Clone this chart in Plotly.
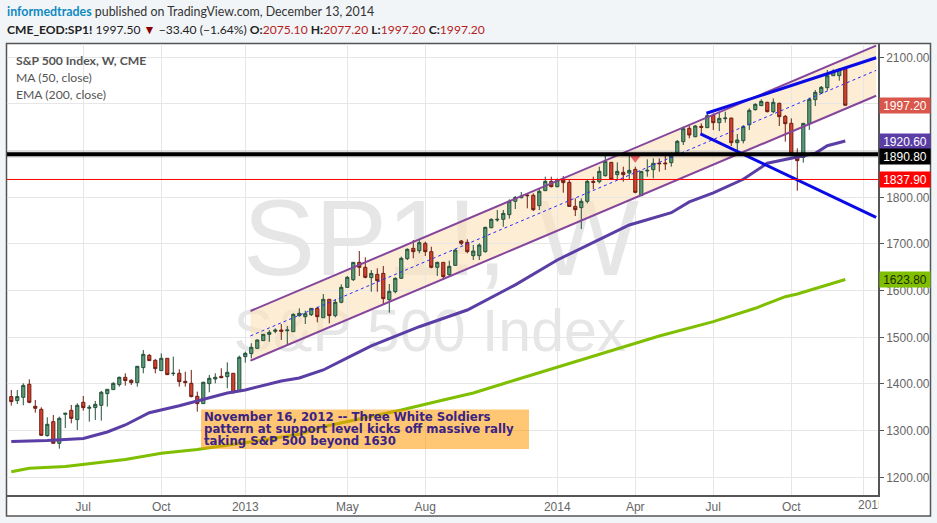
"""S&P 500 weekly candles with channel, trend lines and moving averages."""
import pandas as pd
import plotly.graph_objects as go

W, H = 937, 523
LEFT, RIGHT, TOP, BOTTOM = 7, 878, 44, 495

weeks = pd.date_range("2012-04-09", periods=140, freq="7D")

opens = [
    1372.9,1364.3,1371.4,1399.3,1352.2,1345.7,1289.3,1319.3,1272.9,1335.0,
    1343.6,1323.6,1360.7,1347.9,1349.3,1354.3,1379.3,1387.9,1398.6,1414.3,
    1407.9,1402.9,1435.0,1461.4,1450.7,1428.6,1455.0,1422.2,1422.9,1405.7,
    1401.4,1373.6,1357.9,1400.7,1410.7,1416.4,1415.7,1422.9,1385.7,1458.6,
    1465.0,1476.4,1492.8,1506.4,1512.8,1515.6,1514.2,1512.1,1546.4,1544.2,
    1548.5,1562.0,1542.0,1581.4,1546.4,1575.0,1607.0,1623.5,1660.6,1650.0,
    1627.8,1634.9,1637.0,1580.6,1597.8,1626.4,1668.5,1690.6,1685.6,1701.4,
    1683.5,1650.0,1660.6,1634.2,1654.2,1706.4,1703.5,1674.9,1674.9,1683.5,
    1734.9,1751.4,1752.8,1762.8,1791.4,1799.2,1804.9,1804.2,1782.0,1814.2,
    1834.2,1822.8,1837.0,1832.0,1780.6,1777.8,1791.4,1834.2,1833.5,1846.4,
    1874.9,1848.5,1853.5,1852.0,1859.9,1803.5,1856.4,1859.2,1873.5,1873.5,
    1874.2,1895.6,1919.2,1947.8,1929.9,1952.0,1949.2,1975.6,1959.9,1968.5,
    1969.9,1917.0,1921.4,1955.6,1987.8,1996.4,2003.5,1983.5,2001.4,1973.5,
    1958.5,1888.5,1885.6,1957.8,2009.2,2023.5,2034.9,2060.6,2060.6,2075.1,
]
highs = [
    1387.2,1387.0,1401.4,1410.0,1365.7,1350.0,1328.6,1333.6,1330.0,1337.2,
    1355.0,1358.6,1374.3,1355.0,1363.6,1385.0,1388.6,1403.6,1415.7,1422.9,
    1410.0,1437.9,1472.9,1464.3,1453.6,1465.7,1455.0,1458.6,1431.4,1426.4,
    1430.0,1383.6,1405.0,1419.3,1422.9,1433.6,1446.4,1422.9,1460.7,1469.3,
    1487.2,1495.6,1506.4,1515.6,1519.2,1528.5,1524.2,1551.4,1562.0,1557.0,
    1562.0,1565.6,1592.8,1581.4,1581.4,1613.5,1631.4,1660.6,1684.9,1671.4,
    1644.2,1647.8,1652.8,1614.2,1628.5,1672.8,1690.6,1708.5,1708.5,1705.0,
    1694.2,1662.0,1660.6,1664.2,1688.5,1708.5,1710.0,1697.8,1701.4,1737.0,
    1754.9,1772.8,1772.8,1795.6,1802.8,1811.4,1808.5,1808.5,1819.2,1844.2,
    1844.2,1840.6,1845.6,1837.0,1797.8,1797.8,1837.0,1844.2,1865.6,1890.6,
    1874.9,1874.9,1865.6,1890.6,1865.6,1855.6,1881.4,1883.5,1883.5,1895.6,
    1895.6,1922.8,1951.4,1954.9,1954.9,1958.5,1979.9,1979.9,1983.5,1983.5,
    1969.9,1935.6,1954.9,1990.6,2001.4,2009.9,2004.9,2012.0,2002.8,1976.4,
    1969.2,1904.9,1958.5,2013.5,2029.9,2038.5,2072.8,2074.2,2076.4,2077.2,
]
lows = [
    1353.6,1357.0,1354.3,1358.6,1338.6,1288.6,1287.2,1272.9,1261.4,1305.7,
    1315.7,1301.4,1342.9,1319.3,1322.9,1321.4,1351.4,1387.2,1394.3,1396.4,
    1397.9,1394.3,1422.9,1449.3,1422.9,1428.6,1419.3,1417.2,1394.3,1394.3,
    1371.4,1340.7,1357.2,1382.2,1401.4,1412.2,1390.7,1380.0,1383.6,1445.7,
    1455.0,1474.9,1492.1,1490.6,1508.5,1494.2,1483.5,1511.4,1544.2,1528.5,
    1545.6,1532.1,1542.0,1530.0,1542.8,1572.8,1606.4,1620.6,1631.4,1626.4,
    1597.8,1597.8,1569.2,1552.8,1594.2,1625.0,1665.6,1669.2,1680.0,1674.2,
    1647.8,1631.4,1624.2,1630.0,1652.8,1697.8,1680.0,1665.6,1665.6,1681.4,
    1733.5,1747.8,1737.0,1754.2,1774.9,1797.8,1776.4,1770.6,1772.8,1813.5,
    1821.4,1821.4,1809.9,1779.9,1759.9,1732.0,1787.0,1817.0,1829.9,1844.2,
    1837.0,1838.5,1833.5,1838.5,1808.5,1802.8,1844.2,1840.6,1855.0,1858.5,
    1865.6,1894.2,1912.0,1926.4,1928.5,1935.6,1948.5,1944.2,1942.0,1959.9,
    1909.9,1895.6,1915.6,1944.2,1985.6,1995.6,1982.0,1979.9,1952.8,1919.2,
    1890.6,1814.2,1874.2,1944.2,1995.6,2021.4,2028.5,2060.6,2049.9,1997.2,
]
closes = [
    1362.2,1373.0,1397.0,1360.7,1347.9,1290.0,1313.6,1272.9,1326.4,1337.2,
    1326.4,1354.3,1349.3,1350.0,1356.4,1382.2,1388.6,1401.4,1414.3,1407.2,
    1402.9,1437.9,1463.6,1450.0,1432.9,1455.0,1420.0,1422.9,1405.0,1402.9,
    1372.9,1357.9,1403.6,1412.2,1414.3,1413.6,1425.0,1381.4,1457.2,1465.7,
    1478.6,1494.2,1506.4,1510.6,1515.6,1512.8,1515.6,1549.2,1551.4,1550.6,
    1562.0,1544.2,1581.4,1546.4,1575.0,1607.0,1628.5,1660.6,1650.0,1628.5,
    1637.0,1621.4,1582.8,1598.5,1626.4,1669.2,1688.5,1683.5,1702.8,1683.5,
    1650.0,1660.6,1630.0,1652.0,1687.0,1701.4,1683.5,1684.9,1697.8,1735.6,
    1752.8,1752.8,1765.6,1791.4,1799.9,1802.8,1803.5,1773.5,1812.8,1834.2,
    1822.8,1837.0,1831.4,1780.6,1773.5,1791.4,1834.2,1832.0,1855.6,1877.0,
    1838.5,1855.6,1848.5,1857.8,1810.6,1855.6,1857.8,1872.8,1872.0,1872.0,
    1889.9,1919.9,1947.0,1933.5,1952.8,1949.9,1974.9,1959.9,1969.2,1969.9,
    1917.0,1922.8,1951.4,1986.4,1999.2,2005.6,1983.5,2003.5,1972.8,1957.8,
    1892.8,1878.5,1958.5,2009.9,2024.9,2035.6,2060.6,2070.6,2074.2,1997.2,
]

# moving averages, read at a subset of the weeks
ma_weeks = [0,6,12,16,19,23,28,31,36,39,45,48,52,56,60,68,76,84,91,103,110,113,117,122,126,130,134,136,139]
ma_values = [1276.8,1278.9,1283.2,1297.1,1312.1,1338.5,1353.5,1364.2,1380.7,1387.1,1406.4,1412.8,1430.0,
             1456.0,1481.8,1522.7,1558.5,1612.4,1665.7,1740.7,1767.0,1790.0,1809.3,1838.6,1872.9,1883.6,
             1894.3,1910.6,1920.6]
ema_weeks = [0,3,9,14,19,25,31,40,48,52,58,65,72,77,84,91,95,101,108,117,124,129,131,139]
ema_values = [1212.0,1219.3,1223.2,1230.0,1238.2,1251.5,1259.6,1276.3,1292.2,1308.5,1325.0,1344.2,1365.7,
              1380.7,1408.5,1435.7,1451.4,1475.0,1502.8,1533.5,1562.2,1587.0,1592.8,1623.8]

# drawings
channel_dates = ["2013-01-13", "2015-01-13"]
channel_upper = [1556.4, 2124.9]
channel_mid = [1503.0, 2072.0]
channel_lower = [1449.9, 2017.7]
rising_dates = ["2014-06-29", "2015-01-13"]
rising_values = [1980.0, 2099.0]
falling_dates = ["2014-06-22", "2015-01-13"]
falling_values = [1935.7, 1757.2]
support_level = 1892.0
red_level = 1838.2
signal_date = "2014-04-07"
signal_value = 1883.6

tick_dates = ["2012-07-02", "2012-10-01", "2013-01-07", "2013-05-06", "2013-08-05",
              "2014-01-06", "2014-04-07", "2014-07-07", "2014-10-06", "2014-12-29"]
# the 2015 label is cut off by the price axis, so it is placed by hand below
tick_labels = ["Jul", "Oct", "2013", "May", "Aug", "2014", "Apr", "Jul", "Oct", ""]
price_ticks = [1200, 1300, 1400, 1500, 1600, 1700, 1800, 1900, 2000, 2100]
# 1900 and 2000 sit behind the price tags
price_labels = ["1200.00", "1300.00", "1400.00", "1500.00", "1600.00", "1700.00", "1800.00", "", "", "2100.00"]

# (value, text, background, text colour, nudge in px)
price_tags = [
    (1997.2, "1997.20", "#d9574a", "white", 0),
    (1920.6, "1920.60", "#5a3ea5", "white", 0),
    (1890.8, "1890.80", "#000000", "white", -2),
    (1837.9, "1837.90", "#ff0000", "white", 0),
    (1623.8, "1623.80", "#7fbf00", "#1d2a00", 0),
]

GRID = "#e6e6e6"
AXIS = "#555555"
SANS = "Liberation Sans"
UI = "Lato"
UI_SIZE = 12.2


def px(x):
    return (x - LEFT) / (RIGHT - LEFT)


def py(y):
    return (BOTTOM - y) / (BOTTOM - TOP)


def page_text(x, y, text, size, color, family=UI, anchor="left"):
    return dict(xref="paper", yref="paper", x=px(x), y=py(y), text=text, showarrow=False,
                xanchor=anchor, yanchor="middle", align="left", borderpad=0,
                font=dict(family=family, size=size, color=color))


fig = go.Figure()
fig.add_trace(go.Candlestick(
    x=weeks, open=opens, high=highs, low=lows, close=closes,
    increasing=dict(line=dict(color="#24503a", width=1), fillcolor="#5b9b78"),
    decreasing=dict(line=dict(color="#6d1d12", width=1), fillcolor="#d2432f"),
    whiskerwidth=0, showlegend=False, hoverinfo="skip",
))
fig.add_trace(go.Scatter(x=weeks[ma_weeks], y=ma_values, mode="lines", hoverinfo="skip",
                         line=dict(color="#5a3ea5", width=3), showlegend=False))
fig.add_trace(go.Scatter(x=weeks[ema_weeks], y=ema_values, mode="lines", hoverinfo="skip",
                         line=dict(color="#7fbf00", width=3), showlegend=False))
fig.add_trace(go.Scatter(x=channel_dates, y=channel_mid, mode="lines", hoverinfo="skip",
                         line=dict(color="#2a2aff", width=1, dash="3px,3px"), showlegend=False))
fig.add_trace(go.Scatter(x=channel_dates, y=channel_upper, mode="lines", hoverinfo="skip",
                         line=dict(color="#85459b", width=2), showlegend=False))
fig.add_trace(go.Scatter(x=channel_dates, y=channel_lower, mode="lines", hoverinfo="skip",
                         line=dict(color="#85459b", width=2), showlegend=False))
fig.add_trace(go.Scatter(x=rising_dates, y=rising_values, mode="lines", hoverinfo="skip",
                         line=dict(color="#0a0ae6", width=3), showlegend=False))
fig.add_trace(go.Scatter(x=falling_dates, y=falling_values, mode="lines", hoverinfo="skip",
                         line=dict(color="#0a0ae6", width=3), showlegend=False))
fig.add_trace(go.Scatter(x=[signal_date], y=[signal_value], mode="markers", hoverinfo="skip",
                         marker=dict(symbol="triangle-down", size=9, color="#e8605f"), showlegend=False))

shapes = [
    # white frame around chart and price axis
    dict(type="rect", xref="paper", yref="paper", layer="below",
         x0=px(6.5), x1=px(930.5), y0=py(516), y1=py(43.5),
         fillcolor="white", line=dict(color=AXIS, width=1.5)),
    # watermarks sit under the grid and candles
    dict(type="rect", xref="paper", yref="paper", layer="below",
         x0=px(231), x1=px(651), y0=py(282), y1=py(172), line=dict(width=0),
         label=dict(text="SP1!, W", textposition="middle center",
                    font=dict(family=SANS, size=108, color="#e6e6e6"))),
    dict(type="rect", xref="paper", yref="paper", layer="below",
         x0=px(220), x1=px(640), y0=py(354), y1=py(296), line=dict(width=0),
         label=dict(text="S&P 500 Index", textposition="middle center",
                    font=dict(family=SANS, size=59, color="#e6e6e6"))),
    dict(type="path", xref="x", yref="y", layer="below", line=dict(width=0),
         fillcolor="rgba(253,226,188,0.62)",
         path=f"M {channel_dates[0]} {channel_upper[0]} L {channel_dates[1]} {channel_upper[1]} "
              f"L {channel_dates[1]} {channel_lower[1]} L {channel_dates[0]} {channel_lower[0]} Z"),
    # horizontal levels
    dict(type="line", xref="paper", yref="y", x0=0, x1=1, y0=support_level, y1=support_level,
         line=dict(color="rgba(0,0,0,0.12)", width=7)),
    dict(type="line", xref="paper", yref="y", x0=0, x1=1, y0=support_level, y1=support_level,
         line=dict(color="#000000", width=4)),
    dict(type="line", xref="paper", yref="y", x0=0, x1=1, y0=red_level, y1=red_level,
         line=dict(color="#ff0000", width=1)),
    # comment box
    dict(type="rect", xref="paper", yref="paper", x0=px(201), x1=px(529), y0=py(449), y1=py(409.5),
         fillcolor="rgba(255,153,0,0.55)", line=dict(width=0)),
]

RED = "#b71c1c"
quote = (
    "<b>CME_EOD:SP1!</b> 1997.50 <span style='color:#8b0000'>▼</span> −33.40 (−1.64%) "
    f"<b>O:</b><span style='color:{RED}'>2075.10</span> <b>H:</b><span style='color:{RED}'>2077.20</span> "
    f"<b>L:</b><span style='color:{RED}'>1997.20</span> <b>C:</b><span style='color:{RED}'>1997.20</span>"
)
annotations = [
    page_text(6, 11.5, "<b><span style='color:#0e8ac0'>informedtrades</span></b> published on TradingView.com, December 13, 2014",
              12.4, "#333333"),
    page_text(6, 29, quote, 12.1, "#222222"),
    page_text(15, 60.5, "<b>S&P 500 Index, W, CME</b>", UI_SIZE, "#555555"),
    page_text(15, 77.5, "MA (50, close)", UI_SIZE, "#555555"),
    page_text(15, 94.5, "EMA (200, close)", UI_SIZE, "#555555"),
    # width clips the text at the price axis
    dict(xref="paper", yref="paper", x=px(856.5), y=py(505.5), text="2015", showarrow=False,
         xanchor="left", yanchor="middle", align="left", width=21, borderpad=0,
         font=dict(family=SANS, size=12, color="#666666")),
]
for i, line in enumerate(["November 16, 2012 -- Three White Soldiers",
                          "pattern at support level kicks off massive rally",
                          "taking S&amp;P 500 beyond 1630"]):
    annotations.append(page_text(203, 417 + i * 12, f"<b>{line}</b>", 11.75, "#3a2385", family="DejaVu Sans"))
for value, text, bg, fg, nudge in price_tags:
    annotations.append(dict(xref="paper", yref="y", x=px(878.5), y=value, yshift=nudge, text=text,
                            showarrow=False, xanchor="left", yanchor="middle", width=50, height=15,
                            align="center", bgcolor=bg, borderpad=0,
                            font=dict(family=SANS, size=12, color=fg)))

fig.update_layout(
    width=W, height=H, autosize=False,
    margin=dict(l=LEFT, r=W - RIGHT, t=TOP, b=H - BOTTOM, pad=0),
    paper_bgcolor="#f1f5f8", plot_bgcolor="white",
    showlegend=False, boxgap=0.25, hovermode=False,
    shapes=shapes, annotations=annotations,
    xaxis=dict(type="date", range=["2012-04-04", "2015-01-15 04:00"], rangeslider=dict(visible=False),
               tickmode="array", tickvals=tick_dates, ticktext=tick_labels, ticks="",
               showgrid=True, gridcolor=GRID, gridwidth=1, showline=True, linecolor=AXIS, linewidth=1.5,
               tickfont=dict(family=SANS, size=12, color="#666666"), zeroline=False),
    yaxis=dict(side="right", range=[1162.1, 2128.5], tickmode="array", tickvals=price_ticks,
               ticktext=price_labels, ticks="outside", ticklen=4, tickcolor=AXIS,
               showgrid=True, gridcolor=GRID, gridwidth=1, showline=True, linecolor=AXIS, linewidth=1.5,
               tickfont=dict(family=SANS, size=12, color="#666666"), zeroline=False),
)

# the page's default body margin would push the chart 8px off
fig.write_html("out.html", config={"displayModeBar": False},
               post_script="document.body.style.margin = '0';")
